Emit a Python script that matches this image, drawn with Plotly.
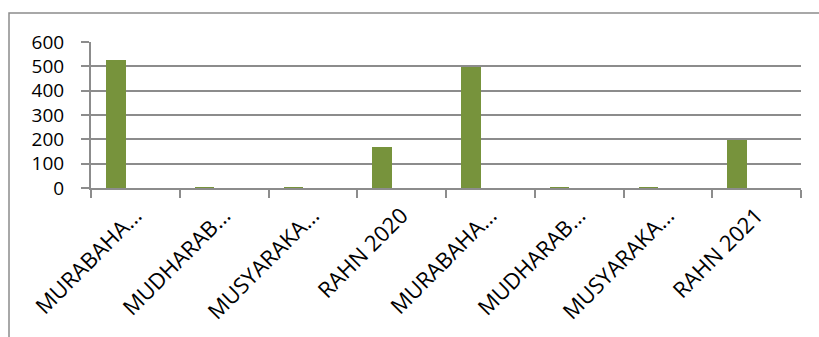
import plotly.graph_objects as go

categories = ["MURABAHAH 2020", "MUDHARABAH 2020", "MUSYARAKAH 2020", "RAHN 2020",
              "MURABAHAH 2021", "MUDHARABAH 2021", "MUSYARAKAH 2021", "RAHN 2021"]
tick_labels = ["MURABAHA...", "MUDHARAB...", "MUSYARAKA...", "RAHN 2020",
               "MURABAHA...", "MUDHARAB...", "MUSYARAKA...", "RAHN 2021"]
values = [525, 1, 3, 170, 496, 2, 3, 196]
y_ticks = [0, 100, 200, 300, 400, 500, 600]

W, H = 819, 337
L, R, T, B = 91, 18, 42, 149
pw = W - L - R
ph = H - T - B

fig = go.Figure()
fig.add_trace(go.Bar(
    x=categories, y=values,
    width=0.22, offset=-0.33,
    marker=dict(color="#77933C", line=dict(width=0)),
))

grid = "#8c8c8c"
xfont = dict(family="Open Sans, Lato, sans-serif", size=22, color="black")
yfont = dict(family="Open Sans, Lato, sans-serif", size=19, color="black")

fig.update_layout(
    width=W, height=H,
    margin=dict(l=L, r=R, t=T, b=B, pad=0),
    paper_bgcolor="white", plot_bgcolor="white",
    showlegend=False,
    font=xfont,
    bargap=0,
    xaxis=dict(
        type="category",
        tickmode="array", tickvals=categories, ticktext=tick_labels,
        tickangle=-45,
        tickson="boundaries",
        ticks="outside", ticklen=8, tickcolor=grid, tickwidth=2,
        showline=True, linecolor=grid, linewidth=2,
        showgrid=False,
        ticklabelstandoff=4,
        tickfont=xfont,
    ),
    yaxis=dict(
        range=[0, 600],
        tickmode="array", tickvals=y_ticks,
        ticks="outside", ticklen=8, tickcolor=grid, tickwidth=2,
        showline=True, linecolor=grid, linewidth=2,
        showgrid=True, gridcolor=grid, gridwidth=2,
        zeroline=False,
        ticklabelstandoff=13,
        tickfont=yfont,
    ),
)

# outer chart border (left and top edges visible)
x0 = (9 - L) / pw
ytop = (H - B - 13) / ph
fig.add_shape(type="path", xref="paper", yref="paper",
              path=f"M {x0} -3 L {x0} {ytop} L 3 {ytop}",
              line=dict(color="#8c8c8c", width=1.5))

fig.write_html("out.html")
